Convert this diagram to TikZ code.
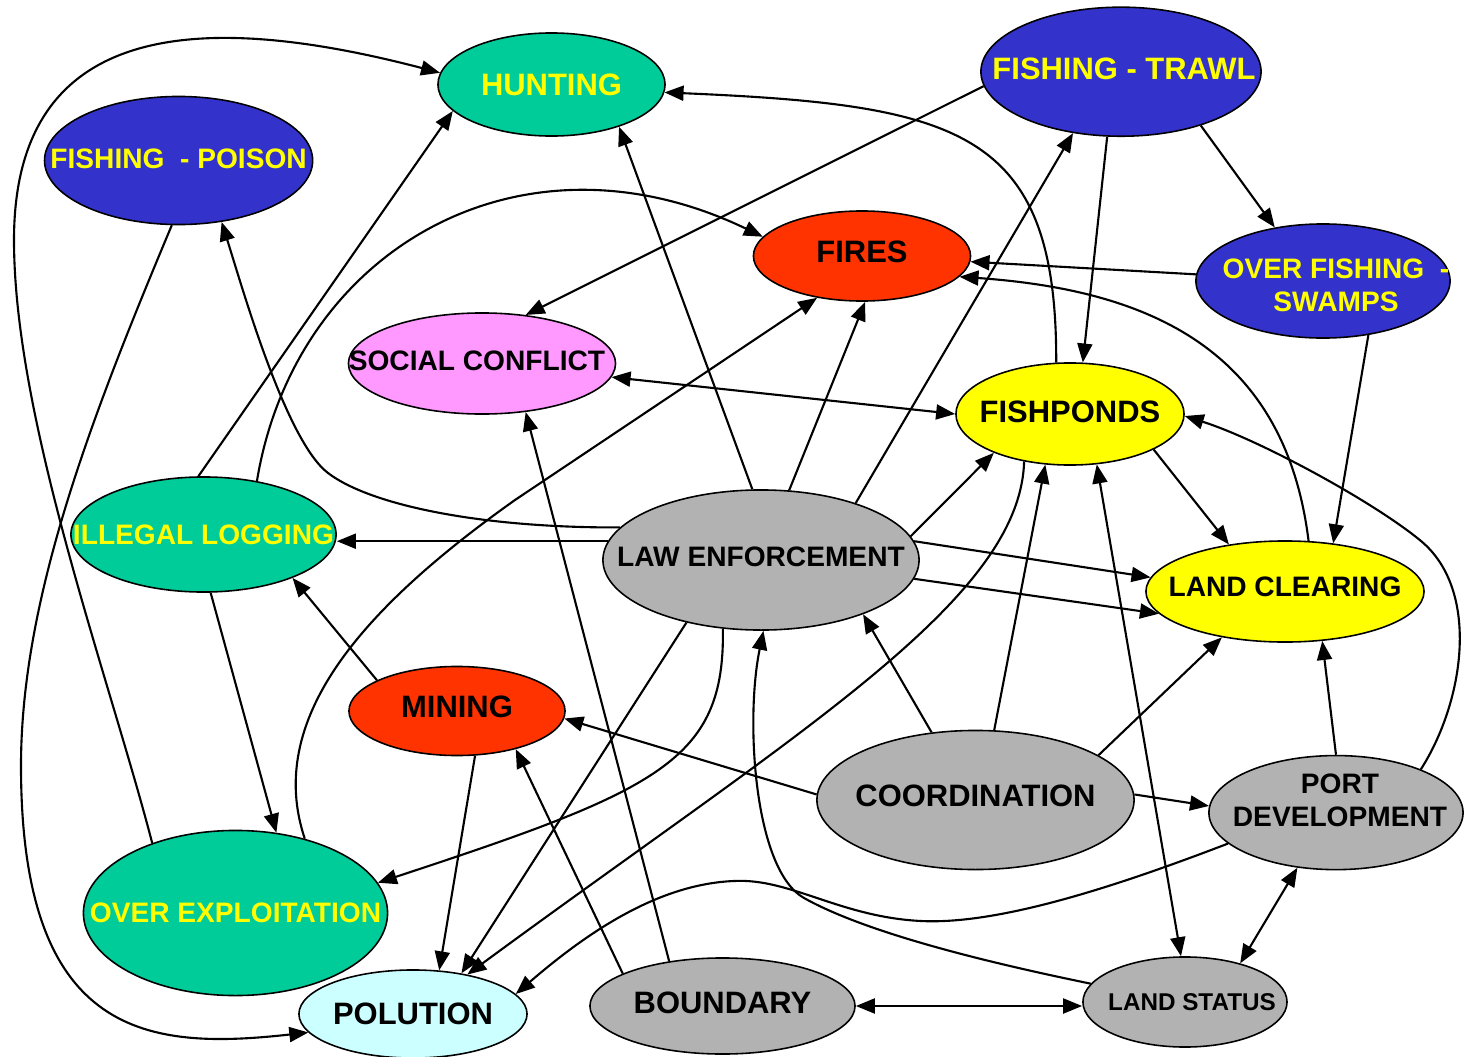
\documentclass[tikz,border=0pt]{standalone}
\usepackage{fontspec}
\setmainfont{Liberation Sans}
\usetikzlibrary{arrows.meta}
\usetikzlibrary{shapes.geometric}

\definecolor{tealgreen}{HTML}{00CC99}
\definecolor{deepblue}{HTML}{3333CC}
\definecolor{firered}{HTML}{FF3300}
\definecolor{pinkish}{HTML}{FF99FF}
\definecolor{sunyellow}{HTML}{FFFF00}
\definecolor{stonegray}{HTML}{B2B2B2}
\definecolor{palecyan}{HTML}{CCFFFF}

\begin{document}
\begin{tikzpicture}[x=0.01cm, y=-0.01cm,
    bubble/.style={ellipse, draw, line width=0.45pt, inner sep=0pt},
    bigtext/.style={font=\fontsize{8.8}{10.5}\selectfont\bfseries},
    smalltext/.style={font=\fontsize{8}{9.4}\selectfont\bfseries},
    link/.style={line width=0.6pt, -{Triangle[length=1.9mm, width=1.5mm]}},
    twoway/.style={line width=0.6pt, {Triangle[length=1.9mm, width=1.5mm]}-{Triangle[length=1.9mm, width=1.5mm]}}]
  \useasboundingbox (0,0) rectangle (1468,1057);

  % issues
  \node[bubble, fill=tealgreen, minimum width=2.27cm, minimum height=1.03cm, label={[bigtext, text=sunyellow]center:HUNTING}] (hunting) at (551.5,84.5) {};
  \node[bubble, fill=deepblue, minimum width=2.68cm, minimum height=1.28cm, label={[smalltext, text=sunyellow, yshift=0.02cm]center:FISHING\ \ - POISON}] (poison) at (178.6,160.5) {};
  \node[bubble, fill=deepblue, minimum width=2.80cm, minimum height=1.29cm, label={[bigtext, text=sunyellow, xshift=0.03cm, yshift=0.03cm]center:FISHING - TRAWL}] (trawl) at (1121,71.7) {};
  \node[bubble, fill=firered, minimum width=2.17cm, minimum height=0.90cm, label={[bigtext, yshift=0.04cm]center:FIRES}] (fires) at (862,256) {};
  \node[bubble, fill=deepblue, minimum width=2.54cm, minimum height=1.14cm, label={[smalltext, text=sunyellow, align=center, xshift=0.13cm, yshift=-0.04cm]center:OVER FISHING~~-\\SWAMPS}] (swamps) at (1323,281) {};
  \node[bubble, fill=pinkish, minimum width=2.67cm, minimum height=1.01cm, label={[smalltext, xshift=-0.05cm, yshift=0.03cm]center:SOCIAL CONFLICT}] (conflict) at (482,363.5) {};
  \node[bubble, fill=sunyellow, minimum width=2.28cm, minimum height=1.02cm, label={[bigtext, yshift=0.02cm]center:FISHPONDS}] (ponds) at (1070,414) {};
  \node[bubble, fill=tealgreen, minimum width=2.65cm, minimum height=1.15cm, label={[smalltext, text=sunyellow]center:ILLEGAL LOGGING}] (logging) at (203.5,534.5) {};
  \node[bubble, fill=stonegray, minimum width=3.16cm, minimum height=1.40cm, label={[smalltext, yshift=0.03cm]center:LAW ENFORCEMENT}] (lawenf) at (761,560) {};
  \node[bubble, fill=sunyellow, minimum width=2.78cm, minimum height=1.01cm, label={[smalltext, yshift=0.05cm]center:LAND CLEARING}] (clearing) at (1285,591.5) {};
  \node[bubble, fill=firered, minimum width=2.16cm, minimum height=0.89cm, label={[bigtext, yshift=0.04cm]center:MINING}] (mining) at (457,711) {};
  \node[bubble, fill=tealgreen, minimum width=3.04cm, minimum height=1.65cm, label={[smalltext, text=sunyellow]center:OVER EXPLOITATION}] (overexp) at (235.5,913) {};
  \node[bubble, fill=stonegray, minimum width=3.17cm, minimum height=1.39cm, label={[bigtext, yshift=0.04cm]center:COORDINATION}] (coord) at (975.5,800) {};
  \node[bubble, fill=stonegray, minimum width=2.54cm, minimum height=1.14cm, label={[smalltext, align=center, xshift=0.04cm, yshift=0.12cm]center:PORT\\DEVELOPMENT}] (port) at (1336,812.6) {};
  \node[bubble, fill=palecyan, minimum width=2.28cm, minimum height=0.88cm, label={[bigtext]center:POLUTION}] (polution) at (413,1014) {};
  \node[bubble, fill=stonegray, minimum width=2.65cm, minimum height=0.96cm, label={[bigtext, yshift=0.03cm]center:BOUNDARY}] (boundary) at (722.5,1006) {};
  \node[bubble, fill=stonegray, minimum width=2.04cm, minimum height=0.90cm, label={[font=\fontsize{6.9}{8}\selectfont\bfseries, xshift=0.07cm]center:LAND STATUS}] (landstatus) at (1185,1002) {};

  % straight links
  \draw[link] (lawenf.173) -- (lawenf.173 -| logging.east);
  \draw[link] (logging.95) -- (hunting.195);
  \draw[link] (trawl.186) -- (conflict.48);
  \draw[twoway] (conflict.-6) -- (ponds.180);
  \draw[link] (boundary.140) -- (conflict.312);
  \draw[link] (lawenf.97) -- (hunting.328);
  \draw[link] (lawenf.68) -- (fires.274);
  \draw[link] (swamps.177) -- (fires.-3);
  \draw[link] (lawenf.31) -- (trawl.232);
  \draw[link] (trawl.258) -- (ponds.76);
  \draw[link] (trawl.326) -- (swamps.132);
  \draw[link] (swamps.310) -- (clearing.45);
  \draw[link] (ponds.337) -- (clearing.140);
  \draw[link] (lawenf.9) -- (ponds.207);
  \draw[link] (lawenf.7) -- (clearing.174);
  \draw[link] (lawenf.-7) -- (clearing.190);
  \draw[link] (coord.123) -- (lawenf.332);
  \draw[link] (coord.75) -- (ponds.244);
  \draw[link] (coord.20) -- (clearing.216);
  \draw[link] (coord.178) -- (mining.-4);
  \draw[link] (coord.2) -- (port.177);
  \draw[link] (port.90) -- (clearing.307);
  \draw[twoway] (port.235) -- (landstatus.35);
  \draw[twoway] (boundary.east) -- (boundary.east -| landstatus.west);
  \draw[twoway] (ponds.298) -- (landstatus.95);
  \draw[link] (lawenf.220) -- (polution.40);
  \draw[link] (mining.159) -- (logging.334);
  \draw[link] (mining.292) -- (polution.59);
  \draw[link] (boundary.162) -- (mining.327);
  \draw[link] (logging.277) -- (overexp.63);

  % curved links
  \draw[link] (overexp.140) .. controls (110,680) and (14,420) .. (14,240)
    .. controls (14,20) and (200,10) .. (hunting.174);
  \draw[link] (poison.264) .. controls (90,420) and (21,600) .. (21,766)
    .. controls (21,1040) and (150,1050) .. (polution.190);
  \draw[link] (lawenf.167) .. controls (480,528) and (370,505) .. (328,473)
    .. controls (286,441) and (243,290) .. (poison.305);
  \draw[link] (logging.45) .. controls (295,250) and (520,120) .. (fires.169);
  \draw[link] (ponds.105) .. controls (1057,130) and (960,105) .. (hunting.-4);
  \draw[link] (overexp.47) .. controls (265,720) and (360,610) .. (515,500) -- (fires.223);
  \draw[link] (clearing.65) .. controls (1285,350) and (1150,290) .. (fires.-12);
  \draw[link] (port.27) .. controls (1465,700) and (1480,590) .. (1421,541)
    .. controls (1374,502) and (1260,440) .. (ponds.-1);
  \draw[link] (port.196) .. controls (1120,885) and (1000,925) .. (921,921)
    .. controls (840,917) and (790,878) .. (734,881)
    .. controls (660,884) and (590,930) .. (polution.11);
  \draw[link] (landstatus.169) .. controls (1000,965) and (870,935) .. (804,898)
    .. controls (754,870) and (745,720) .. (lawenf.272);
  \draw[link] (ponds.226) .. controls (1020,600) and (800,730) .. (polution.36);
  \draw[link] (lawenf.241) .. controls (725,760) and (660,790) .. (overexp.12);
\end{tikzpicture}
\end{document}
